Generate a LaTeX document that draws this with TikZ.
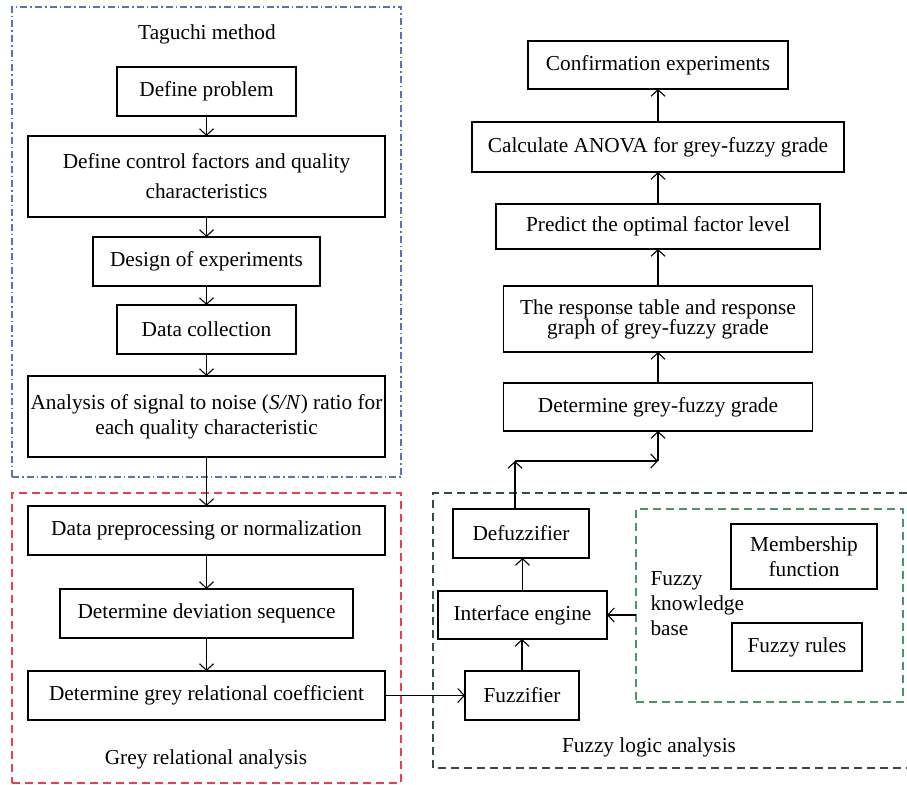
\documentclass[tikz,border=0pt]{standalone}
\usepackage{fontspec}
\setmainfont{Liberation Serif}
\usepackage{tikz}
\usetikzlibrary{arrows.meta,positioning,calc}

\definecolor{tagblue}{RGB}{92,112,184}
\definecolor{greyred}{RGB}{232,64,76}
\definecolor{fuzzgreen}{RGB}{52,78,60}
\definecolor{kbgreen}{RGB}{72,150,104}

\begin{document}
\begin{tikzpicture}[x=1pt, y=-1pt, ->, >={Straight Barb[length=6.5pt,width=14pt]}, line width=1.1pt,
  block/.style={draw, rectangle, inner sep=0pt, outer sep=0pt, align=center, font=\fontsize{21.3}{24}\selectfont},
  label/.style={inner sep=0pt, align=center, font=\fontsize{21.3}{25}\selectfont},
  frame/.style={draw, rectangle, inner sep=0pt, outer sep=0pt, line width=1.3pt}]

\useasboundingbox (0,0) rectangle (907,784);

\node[frame, tagblue, dash pattern=on 7pt off 3pt on 1.5pt off 3pt, minimum width=389, minimum height=470] (Taguchi) at (206.5,242) {};
\node[frame, greyred, dash pattern=on 8pt off 5pt, minimum width=389, minimum height=290] (Grey) at (206.5,638) {};
\draw[-, fuzzgreen, line width=1.3pt, dash pattern=on 8pt off 5pt] (907,493) -- (433,493) -- (433,768) -- (907,768);
\node[frame, kbgreen, dash pattern=on 8pt off 5pt, minimum width=267, minimum height=193] (KB) at (769.5,605.5) {};

\node[label] (TagTitle)  at (207,34)  {Taguchi method};
\node[label] (GreyTitle) at (206,759) {Grey relational analysis};
\node[label] (FuzzTitle) at (649,747) {Fuzzy logic analysis};

\node[block, minimum width=179, minimum height=49] (Problem)   at (206.5,91.5)  {Define problem};
\node[block, minimum width=357, minimum height=81, font=\fontsize{21.3}{30}\selectfont] (Factors) at (206.5,176.5) {Define control factors and quality\\characteristics};
\node[block, minimum width=227, minimum height=49] (Design)    at (206.5,261.5) {Design of experiments};
\node[block, minimum width=179, minimum height=49] (Collect)   at (206.5,329.5) {Data collection};
\node[block, minimum width=357, minimum height=81, font=\fontsize{21.3}{25}\selectfont] (SN) at (206.5,416.5) {Analysis of signal to noise (\textit{S/N}) ratio for\\each quality characteristic};

\node[block, minimum width=357, minimum height=49] (Norm)      at (206.5,530.5) {Data preprocessing or normalization};
\node[block, minimum width=293, minimum height=49] (Deviation) at (206.5,613.5) {Determine deviation sequence};
\node[block, minimum width=357, minimum height=49] (Coeff)     at (206.5,695.5) {Determine grey relational coefficient};

\node[block, minimum width=114, minimum height=49] (Fuzzifier)   at (522,695.5) {Fuzzifier};
\node[block, minimum width=169, minimum height=48] (Engine)      at (522.5,615)  {Interface engine};
\node[block, minimum width=136, minimum height=49] (Defuzzifier) at (521,533.5)  {Defuzzifier};
\node[block, minimum width=146, minimum height=65, font=\fontsize{21.3}{25}\selectfont] (Membership) at (804,556.5) {Membership\\function};
\node[block, minimum width=130, minimum height=48] (Rules)       at (797,647)    {Fuzzy rules};
\node[label, align=left, anchor=west] (KBText) at (650,604) {Fuzzy\\knowledge\\base};

\node[block, minimum width=309, minimum height=48] (Grade)    at (658,407)  {Determine grey-fuzzy grade};
\node[block, minimum width=309, minimum height=66, font=\fontsize{21.3}{20}\selectfont] (Response) at (658,319) {The response table and response\\graph of grey-fuzzy grade};
\node[block, minimum width=324, minimum height=45] (Predict)  at (658,226.5)  {Predict the optimal factor level};
\node[block, minimum width=372, minimum height=50] (Anova)    at (658,147)    {Calculate ANOVA for grey-fuzzy grade};
\node[block, minimum width=260, minimum height=48] (Confirm)  at (658,65)     {Confirmation experiments};

\coordinate (Up)    at (515,461);
\coordinate (Right) at (658,461);

\draw (Problem.south) -- (Factors.north);
\draw (Factors.south) -- (Design.north);
\draw (Design.south)  -- (Collect.north);
\draw (Collect.south) -- (SN.north);
\draw (SN.south)      -- (Norm.north);
\draw (Norm.south)    -- (Deviation.north);
\draw (Deviation.south) -- (Coeff.north);
\draw (Coeff.east)    -- (Fuzzifier.west);
\draw (Fuzzifier.north) -- (Fuzzifier.north |- Engine.south);
\draw (Engine.north)  -- (Engine.north |- Defuzzifier.south);
\draw (KB.west |- Engine.east) -- (Engine.east);
\draw (Up |- Defuzzifier.north) -- (Up);
\draw (Up) -- (Right);
\draw (Right) -- (Grade.south);
\draw (Grade.north)    -- (Response.south);
\draw (Response.north) -- (Predict.south);
\draw (Predict.north)  -- (Anova.south);
\draw (Anova.north)    -- (Confirm.south);

\end{tikzpicture}
\end{document}
